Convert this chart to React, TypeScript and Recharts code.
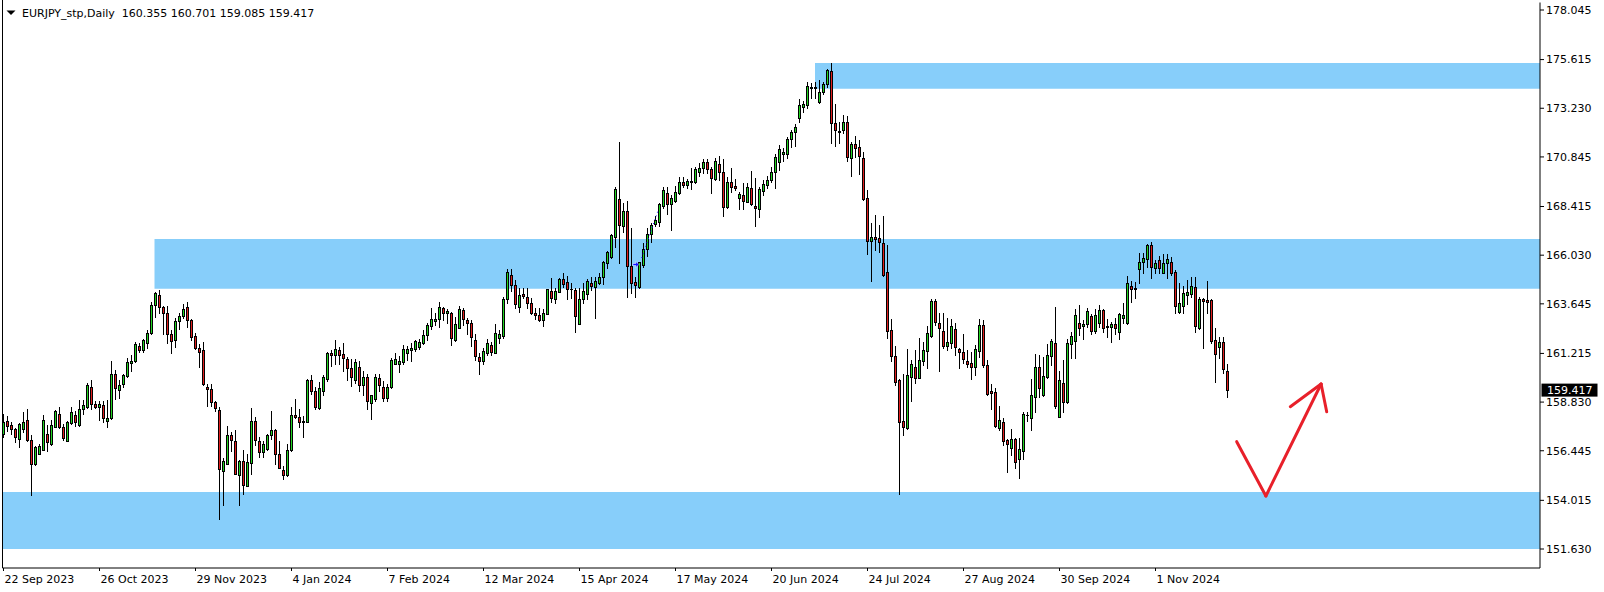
import React from 'react';
import { ComposedChart, Bar, XAxis, YAxis, ReferenceArea, ReferenceLine, ReferenceDot } from 'recharts';

const opens = [
157.29,157.88,157.69,157.49,157.00,157.52,157.93,156.95,155.81,156.31,
156.49,157.29,156.80,157.62,158.27,157.60,156.93,157.82,158.22,157.73,
158.47,158.60,159.55,158.72,158.60,158.67,157.88,158.03,160.23,159.40,
159.74,160.09,160.76,160.82,161.56,161.39,161.75,162.20,163.57,164.09,
163.47,163.18,162.15,161.85,162.78,163.03,163.47,162.85,162.05,161.46,
161.36,159.56,159.47,158.81,158.42,155.46,155.82,157.20,156.90,155.28,
155.92,154.73,155.86,157.88,156.93,156.40,156.54,157.20,157.44,156.31,
155.48,155.28,156.46,158.22,158.09,157.90,157.87,159.91,159.37,158.52,
159.39,159.97,161.23,161.12,161.38,161.17,160.94,160.50,159.92,160.54,
159.68,160.05,158.80,158.99,160.01,159.56,159.01,159.55,160.72,160.71,
160.81,161.25,161.38,161.44,161.54,161.74,162.10,162.57,162.82,162.90,
163.44,163.18,163.19,161.87,162.47,163.32,162.85,162.70,161.85,161.05,
160.85,161.25,161.63,161.25,161.99,162.08,163.86,165.06,164.55,163.47,
164.12,163.96,163.67,163.19,163.10,162.85,163.16,164.26,163.86,164.24,
164.84,164.70,164.35,164.32,162.67,163.86,164.11,164.66,164.48,164.68,
164.94,165.66,165.94,166.93,168.78,167.47,168.19,165.50,164.71,164.45,
165.55,166.31,167.05,167.54,167.67,168.45,169.06,168.54,168.70,169.06,
169.60,169.45,169.66,169.63,170.12,170.28,170.58,170.24,169.75,170.48,
170.09,168.37,169.60,169.42,168.81,168.98,168.65,169.30,168.42,168.28,
169.19,169.45,169.71,170.09,170.61,171.00,170.97,171.71,172.05,172.74,
173.27,173.39,174.24,174.21,173.55,174.04,174.40,175.06,172.49,172.10,
172.15,172.54,170.77,171.46,171.35,170.77,168.81,166.74,166.90,166.85,
166.61,165.19,162.34,161.07,159.91,157.90,157.54,160.07,160.53,160.02,
160.86,161.35,162.08,163.78,162.69,162.31,161.59,161.74,162.41,161.41,
161.27,160.84,160.73,160.56,161.35,162.61,160.65,159.37,159.31,157.57,
157.84,156.97,156.59,157.00,156.02,156.45,158.20,158.03,159.09,160.53,
159.18,160.04,161.10,161.71,158.11,159.78,158.82,161.66,161.82,162.69,
162.58,162.66,163.05,162.33,162.69,163.34,162.56,162.49,162.66,162.25,
162.97,162.69,164.52,164.40,165.34,165.71,165.83,166.53,165.38,165.79,
165.17,165.66,165.71,165.19,163.26,163.55,164.08,164.13,164.45,162.44,
163.88,163.83,163.83,161.87,161.51,161.76,160.355,
];

const highs = [
158.27,158.14,157.87,157.56,157.82,158.32,158.49,157.21,156.66,156.80,
158.22,157.70,157.95,158.44,158.59,157.78,157.88,158.59,158.39,158.93,
158.93,159.76,159.91,158.89,158.89,158.89,158.93,160.84,160.40,159.91,
160.23,160.97,161.13,161.77,161.71,161.92,162.36,163.73,164.22,164.32,
163.54,163.54,162.36,162.93,163.22,163.63,163.72,162.88,162.24,161.66,
161.77,159.73,159.70,158.88,158.59,156.07,157.67,157.34,157.46,155.97,
156.48,156.31,158.54,158.08,157.13,156.93,157.29,158.39,157.52,156.92,
155.69,156.79,158.59,158.98,158.49,158.14,159.97,160.15,159.55,159.79,
160.15,161.30,161.39,161.87,161.54,161.74,161.05,160.95,160.94,160.85,
160.35,160.23,159.19,160.23,160.23,159.88,159.71,160.99,161.22,161.08,
161.62,161.56,161.71,161.87,161.90,162.36,162.69,163.44,163.18,163.72,
163.50,163.40,163.26,162.98,163.54,163.44,162.96,162.85,162.16,161.25,
161.46,161.92,161.76,162.65,162.36,163.99,165.33,165.33,164.81,164.40,
164.40,164.40,163.91,163.42,163.42,163.39,164.39,164.89,164.40,164.89,
165.14,165.01,164.68,164.44,164.40,164.65,164.84,164.97,164.97,165.14,
165.74,166.23,167.07,169.39,171.58,168.60,168.68,167.34,164.97,165.71,
166.61,167.34,167.62,167.96,168.60,169.39,169.39,168.98,169.42,169.88,
169.88,169.75,170.29,170.33,170.56,170.73,170.73,170.33,170.78,170.89,
170.73,169.88,170.29,169.75,169.14,169.55,169.55,170.15,169.79,169.35,
169.71,169.91,170.37,170.99,171.43,171.30,171.82,172.16,172.46,173.68,
173.59,174.50,174.45,174.50,174.61,174.50,175.15,175.45,173.42,172.54,
172.90,172.85,171.56,171.87,171.67,171.07,169.22,167.62,168.00,167.51,
167.95,166.53,162.90,161.58,159.96,160.20,161.43,160.89,161.38,161.95,
161.79,162.57,163.88,163.87,163.18,163.18,162.93,162.90,162.69,161.50,
162.15,161.38,161.30,161.63,162.90,162.85,160.89,159.70,159.54,158.64,
158.03,157.02,157.49,157.05,157.05,158.33,158.36,159.94,161.17,161.14,
161.06,161.66,161.92,163.51,160.35,160.89,161.92,162.28,163.38,163.59,
162.85,163.46,163.13,163.37,163.59,163.39,162.88,162.77,162.93,163.18,
163.70,165.01,164.76,164.73,166.12,166.12,166.58,166.66,165.79,165.99,
166.09,166.07,165.96,165.30,164.65,164.52,164.81,164.98,164.98,163.99,
163.94,164.76,163.86,162.44,162.00,162.00,160.701,
];

const lows = [
157.10,157.42,157.28,156.88,156.64,157.38,156.92,154.30,155.77,156.28,
156.46,156.44,156.72,157.59,157.57,156.98,156.90,157.78,157.67,157.65,
158.24,158.52,158.49,158.55,157.95,157.83,157.62,158.00,158.99,159.03,
159.55,160.05,160.37,160.79,161.28,161.30,161.49,162.18,163.01,163.21,
162.15,161.75,161.22,161.54,162.39,162.93,162.49,161.87,161.43,160.56,
159.66,158.65,158.65,158.39,153.08,153.81,155.81,156.44,155.32,153.81,
154.35,154.70,155.33,156.74,156.12,156.12,156.48,157.03,155.82,155.58,
155.04,155.22,156.43,158.03,157.62,157.13,157.83,159.25,158.49,158.50,
159.17,159.86,160.59,160.72,160.68,160.37,159.91,159.63,159.78,159.39,
159.19,158.50,158.01,158.89,159.37,158.89,158.86,159.50,160.71,160.32,
160.69,160.89,160.85,161.35,161.44,161.67,161.87,162.42,162.60,162.52,
162.85,162.72,161.64,161.84,162.44,162.60,162.16,161.60,160.90,160.22,
160.70,161.13,161.13,161.22,161.71,161.99,163.67,164.27,163.46,163.26,
163.91,163.42,163.13,162.88,162.82,162.57,163.13,163.75,163.67,164.21,
164.48,163.86,163.94,162.25,162.64,163.67,163.88,164.32,162.96,164.60,
164.60,165.38,165.91,166.41,165.63,167.18,163.99,164.16,163.99,164.42,
165.46,166.00,166.69,167.47,167.47,168.32,168.03,167.28,168.65,169.03,
169.39,169.34,169.26,169.55,169.92,170.04,170.07,169.06,169.71,169.71,
167.96,168.34,169.14,169.22,168.28,168.28,168.62,168.49,167.47,167.92,
168.98,169.30,169.63,169.30,170.20,170.64,170.81,171.35,171.40,172.57,
173.06,173.26,173.72,173.72,173.50,173.94,174.29,171.54,171.40,171.54,
172.00,170.66,169.93,170.86,170.01,168.73,166.09,164.76,166.28,166.20,
165.01,161.98,160.86,159.66,154.32,157.21,157.51,158.90,159.75,159.99,
160.64,160.51,162.03,162.61,160.37,161.50,161.38,161.46,161.14,160.48,
160.73,160.57,159.96,160.16,161.02,160.53,159.18,158.49,157.62,157.46,
156.73,155.42,156.23,155.58,155.12,156.04,157.90,157.46,158.36,159.09,
159.14,159.99,160.65,158.52,158.08,158.33,158.77,160.97,160.97,162.12,
161.90,162.50,162.15,162.20,162.52,162.28,162.03,161.79,162.15,161.92,
162.69,162.65,163.75,163.95,164.65,165.14,165.47,164.89,165.17,165.14,
165.14,164.89,165.06,163.18,163.21,163.21,163.64,163.99,162.28,162.41,
161.46,163.18,161.74,159.83,160.97,160.27,159.085,
];

const closes = [
157.87,157.67,157.52,157.10,157.75,157.83,156.95,155.81,156.61,156.69,
157.93,156.88,157.70,158.39,157.62,157.08,157.83,158.32,157.87,158.49,
158.68,159.66,158.72,158.60,158.72,158.03,158.05,160.23,159.53,159.65,
160.14,160.79,160.84,161.67,161.39,161.85,162.24,163.58,164.16,163.47,
163.22,162.15,161.80,162.80,163.03,163.37,162.83,162.03,161.46,161.30,
159.73,159.45,158.81,158.52,155.53,155.92,157.24,156.95,155.33,155.92,
154.79,155.89,157.88,156.95,156.40,156.80,157.21,157.44,156.30,155.61,
155.28,156.46,158.22,158.11,157.87,157.83,159.91,159.35,158.59,159.50,
160.05,161.23,161.12,161.43,161.15,160.99,160.51,160.05,160.79,159.68,
160.05,158.86,159.17,160.05,159.68,159.04,159.56,160.89,160.94,160.84,
161.43,161.41,161.48,161.80,161.77,162.10,162.60,162.90,162.90,163.47,
163.18,163.29,161.98,162.65,163.39,162.88,162.73,162.00,161.10,160.85,
161.33,161.71,161.30,162.20,162.15,163.86,165.19,164.57,163.62,164.08,
164.04,163.70,163.21,163.10,162.85,163.18,164.35,163.94,164.26,164.84,
164.63,164.39,164.35,163.06,163.86,164.26,164.76,164.53,164.75,164.96,
165.69,166.18,167.00,169.27,167.52,168.19,165.51,164.68,164.58,165.68,
166.33,167.05,167.49,167.75,168.54,169.21,168.54,168.81,169.12,169.60,
169.45,169.66,169.60,170.24,170.28,170.58,170.24,169.79,170.64,170.12,
168.41,169.60,169.39,169.30,169.01,168.70,169.35,168.54,168.36,169.26,
169.52,169.71,170.09,170.82,171.22,171.07,171.71,172.05,172.30,173.37,
173.44,174.30,174.29,174.26,174.04,174.40,175.10,172.52,172.15,172.05,
172.54,170.82,171.46,171.26,170.91,168.78,166.74,166.93,166.84,166.66,
165.06,162.33,161.10,159.83,157.87,157.62,160.15,160.69,159.99,160.89,
161.38,162.20,163.78,162.74,162.44,161.59,161.76,162.56,161.55,161.27,
160.94,160.71,160.56,161.41,162.61,160.65,159.23,159.26,157.67,157.95,
156.94,156.76,157.00,155.91,156.53,158.24,158.21,159.18,160.53,159.50,
160.12,161.14,161.82,158.65,159.91,158.85,161.71,162.07,163.10,162.48,
162.66,163.29,162.31,163.10,163.34,162.44,162.49,162.66,162.44,163.13,
163.10,164.65,164.35,164.35,165.71,165.87,166.53,165.43,165.63,165.38,
165.66,165.84,165.17,163.55,163.67,164.16,164.22,164.52,162.57,163.86,
163.80,163.75,161.84,161.17,161.76,160.43,159.417,
];

const dateLabels = ['22 Sep 2023', '26 Oct 2023', '29 Nov 2023', '4 Jan 2024', '7 Feb 2024', '12 Mar 2024', '15 Apr 2024', '17 May 2024', '20 Jun 2024', '24 Jul 2024', '27 Aug 2024', '30 Sep 2024', '1 Nov 2024'];
const dateLabelBars = [0, 24, 48, 72, 96, 120, 144, 168, 192, 216, 240, 264, 288];
const priceTicks = [151.63, 154.015, 156.445, 158.83, 161.215, 163.645, 166.03, 168.415, 170.845, 173.23, 175.615, 178.045];

const xDomain: [number, number] = [-0.25, 384.125];
const yDomain: [number, number] = [150.699, 178.413];

const zoneStarts = [202.875, 37.75, -0.25];
const zoneTops = [175.448, 166.822, 154.423];
const zoneBottoms = [174.188, 164.387, 151.63];

const arrowBars = [308.3, 315.6, 329.4];
const arrowPrices = [156.889, 154.228, 159.716];
const arrowHeadBars = [321.7, 330.8];
const arrowHeadPrices = [158.604, 158.359];

const tradeLineBars = [159.55, 163.6];
const tradeLinePrices = [165.891, 168.194];
const tradeArrowBar = 158.1;
const tradeArrowPrice = 165.573;

const symbol = 'EURJPY_stp,Daily';

const rows = opens.map((o, k) => ({
  i: k,
  o,
  h: highs[k],
  l: lows[k],
  c: closes[k],
  range: [lows[k], highs[k]],
}));

const last = rows.length - 1;
const FONT = 'DejaVu Sans';
const UP = '#22d422';
const DOWN = '#e01e1e';
const ZONE = '#87CEFA';
const ARROW = '#E8202A';

const Candle = (props: any) => {
  const { x, y, width, height, payload } = props;
  if (payload == null || x == null || y == null) return null;
  const top = Math.min(y, y + height);
  const h = Math.abs(height);
  const span = payload.h - payload.l;
  const py = (v: number) => (span > 0 ? top + ((payload.h - v) / span) * h : top);
  const cx = Math.floor(x + width / 2) + 0.5;
  const yo = py(payload.o);
  const yc = py(payload.c);
  const bull = payload.c >= payload.o;
  const bt = Math.round(Math.min(yo, yc)) + 0.5;
  const bb = Math.round(Math.max(yo, yc)) + 0.5;
  return (
    <g>
      <line x1={cx} x2={cx} y1={Math.round(top)} y2={Math.round(top + h) + 1} stroke="#000" strokeWidth={1} />
      {bb - bt < 1 ? (
        <line x1={cx - 1.5} x2={cx + 1.5} y1={bt} y2={bt} stroke="#000" strokeWidth={1} />
      ) : (
        <rect x={cx - 1} y={bt} width={2} height={bb - bt} fill={bull ? UP : DOWN} stroke="#000" strokeWidth={1} />
      )}
    </g>
  );
};

const DateTick = (props: any) => {
  const { x, y, payload } = props;
  const idx = dateLabelBars.indexOf(payload.value);
  return (
    <text x={x + 1} y={y} dy={10} fontSize={11} fontFamily={FONT} fill="#000" textAnchor="start">
      {idx >= 0 ? dateLabels[idx] : ''}
    </text>
  );
};

const PriceTag = (props: any) => {
  const vb = props.viewBox || {};
  const rx = (vb.x || 0) + (vb.width || 0) + 1.5;
  const ry = (vb.y || 0) - 6.5;
  return (
    <g>
      <rect x={rx} y={ry} width={56} height={13} fill="#000" />
      <text x={rx + 5.5} y={ry + 10.5} fontSize={11} fontFamily={FONT} fill="#fff">
        {closes[last].toFixed(3)}
      </text>
    </g>
  );
};

const TradeArrow = (props: any) => {
  const { cx, cy } = props;
  if (cx == null) return null;
  return (
    <polygon
      points={`${cx - 3},${cy - 1} ${cx},${cy - 1} ${cx},${cy - 3} ${cx + 3},${cy} ${cx},${cy + 3} ${cx},${cy + 1} ${cx - 3},${cy + 1}`}
      fill="#1010ff"
      stroke="#fff"
      strokeWidth={0.5}
    />
  );
};

export default function App() {
  const header = `${symbol}  ${opens[last].toFixed(3)} ${highs[last].toFixed(3)} ${lows[last].toFixed(3)} ${closes[last].toFixed(3)}`;
  return (
    <div style={{ position: 'absolute', left: 0, top: 0, width: 1604, height: 592, background: '#fff' }}>
      <ComposedChart width={1604} height={592} data={rows} margin={{ top: 2.5, right: 0, bottom: 0, left: 2.5 }}>
        <XAxis
          dataKey="i"
          type="number"
          domain={xDomain}
          allowDataOverflow
          ticks={dateLabelBars}
          interval={0}
          height={24}
          axisLine={{ stroke: '#000' }}
          tickLine={{ stroke: '#000' }}
          tickSize={3}
          tickMargin={2}
          tick={<DateTick />}
        />
        <YAxis
          orientation="right"
          type="number"
          domain={yDomain}
          allowDataOverflow
          ticks={priceTicks}
          interval={0}
          width={64}
          axisLine={{ stroke: '#000' }}
          tickLine={{ stroke: '#000' }}
          tickSize={4}
          tickMargin={2}
          tick={{ fill: '#000', fontSize: 11, fontFamily: FONT }}
          tickFormatter={(v: number) => v.toFixed(3)}
        />
        {zoneStarts.map((s, k) => (
          <ReferenceArea
            key={'z' + k}
            x1={s}
            x2={xDomain[1]}
            y1={zoneBottoms[k]}
            y2={zoneTops[k]}
            fill={ZONE}
            fillOpacity={1}
            stroke="none"
            ifOverflow="visible"
          />
        ))}
        <Bar dataKey="range" barSize={3} shape={<Candle />} isAnimationActive={false} />
        <ReferenceLine
          segment={[
            { x: tradeLineBars[0], y: tradeLinePrices[0] },
            { x: tradeLineBars[1], y: tradeLinePrices[1] },
          ]}
          stroke="#1010ff"
          strokeWidth={1}
          strokeDasharray="1 3"
        />
        <ReferenceDot x={tradeArrowBar} y={tradeArrowPrice} r={3} shape={<TradeArrow />} />
        <ReferenceLine
          segment={[
            { x: arrowBars[0], y: arrowPrices[0] },
            { x: arrowBars[1], y: arrowPrices[1] },
          ]}
          stroke={ARROW}
          strokeWidth={3}
          strokeLinecap="round"
        />
        <ReferenceLine
          segment={[
            { x: arrowBars[1], y: arrowPrices[1] },
            { x: arrowBars[2], y: arrowPrices[2] },
          ]}
          stroke={ARROW}
          strokeWidth={3}
          strokeLinecap="round"
        />
        <ReferenceLine
          segment={[
            { x: arrowBars[2], y: arrowPrices[2] },
            { x: arrowHeadBars[0], y: arrowHeadPrices[0] },
          ]}
          stroke={ARROW}
          strokeWidth={3}
          strokeLinecap="round"
        />
        <ReferenceLine
          segment={[
            { x: arrowBars[2], y: arrowPrices[2] },
            { x: arrowHeadBars[1], y: arrowHeadPrices[1] },
          ]}
          stroke={ARROW}
          strokeWidth={3}
          strokeLinecap="round"
        />
        <ReferenceLine y={closes[last]} stroke="none" label={<PriceTag />} />
      </ComposedChart>
      <div style={{ position: 'absolute', left: 2, top: 0, width: 1, height: 568, background: '#000', pointerEvents: 'none' }} />
      <svg width={420} height={24} style={{ position: 'absolute', left: 0, top: 0, pointerEvents: 'none' }}>
        <polygon points="6.5,10.5 15.5,10.5 11,15" fill="#000" />
        <text x={22} y={17} fontSize={11} fontFamily={FONT} fill="#000" style={{ whiteSpace: 'pre' }}>
          {header}
        </text>
      </svg>
    </div>
  );
}
